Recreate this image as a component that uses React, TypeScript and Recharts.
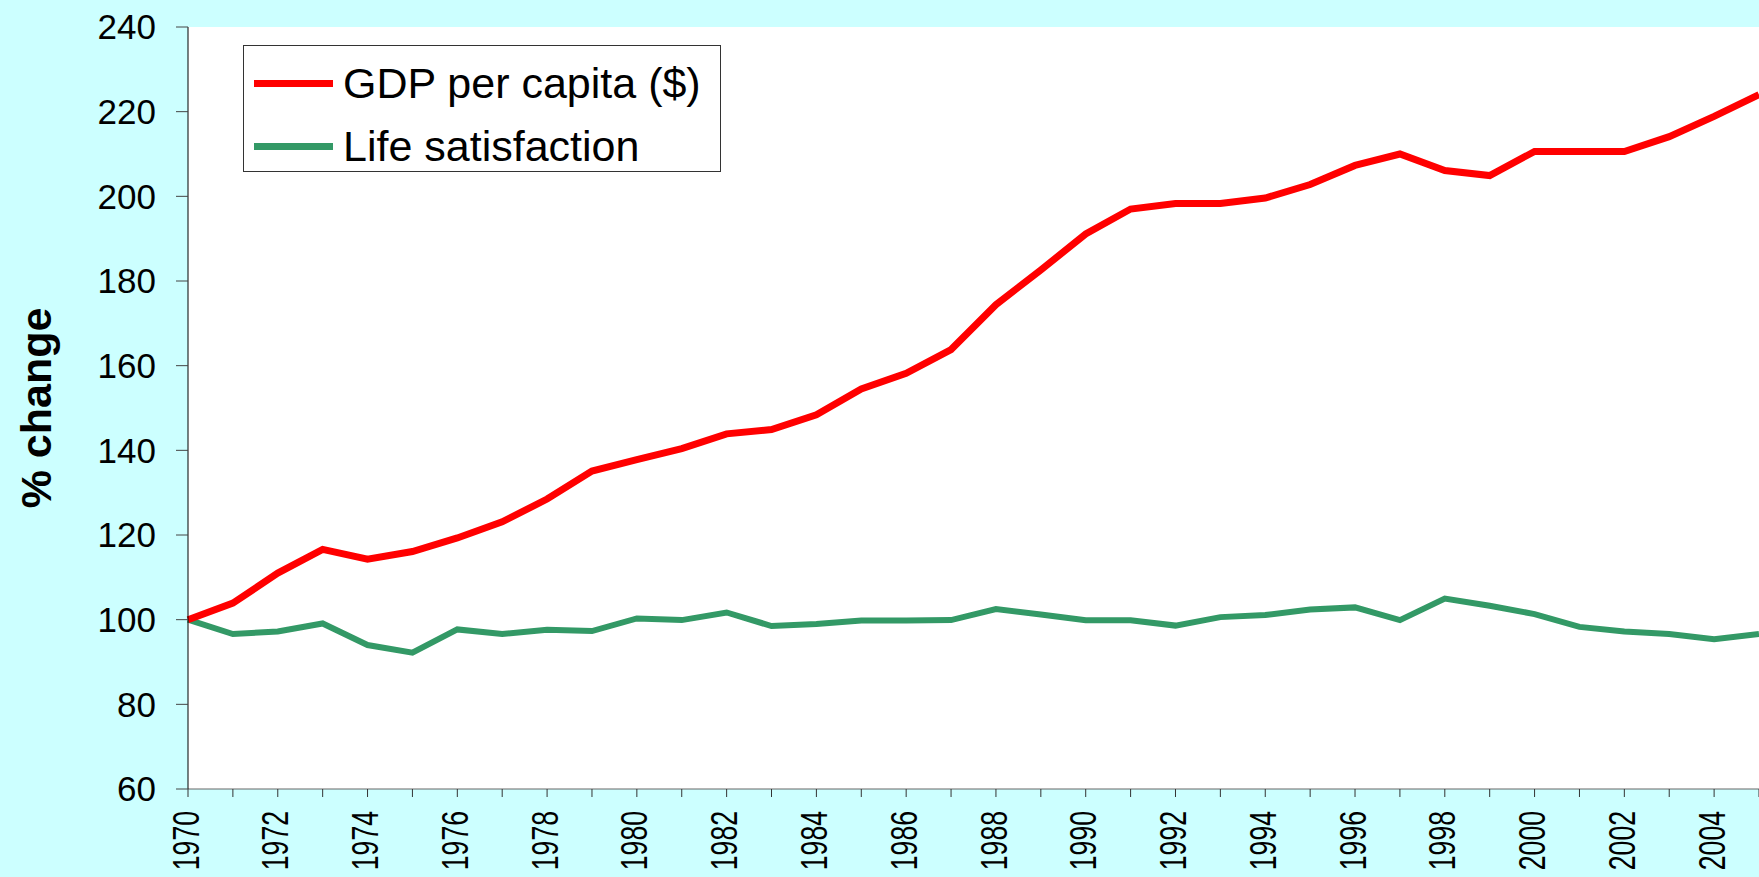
import { CartesianGrid, Legend, Line, LineChart, XAxis, YAxis } from "recharts"

const years = [
  1970, 1971, 1972, 1973, 1974, 1975, 1976, 1977, 1978, 1979, 1980, 1981, 1982, 1983, 1984, 1985, 1986, 1987,
  1988, 1989, 1990, 1991, 1992, 1993, 1994, 1995, 1996, 1997, 1998, 1999, 2000, 2001, 2002, 2003, 2004, 2005,
]

const gdpPerCapita = [
  100, 103.9, 111.0, 116.6, 114.3, 116.1, 119.3, 123.1, 128.5, 135.1, 137.8, 140.4, 143.9, 144.9, 148.4, 154.5,
  158.2, 163.8, 174.4, 182.6, 191.1, 197.0, 198.3, 198.3, 199.6, 202.8, 207.3, 210.0, 206.1, 204.9, 210.6, 210.6,
  210.6, 214.1, 218.9, 224.0,
]

const lifeSatisfaction = [
  100, 96.6, 97.2, 99.1, 94.0, 92.2, 97.7, 96.6, 97.6, 97.3, 100.3, 99.9, 101.7, 98.5, 99.0, 99.8, 99.8, 99.9,
  102.5, 101.2, 99.85, 99.85, 98.6, 100.6, 101.1, 102.4, 102.9, 99.9, 105.0, 103.3, 101.3, 98.3, 97.2, 96.6, 95.4,
  96.6,
]

const yTicks = [60, 80, 100, 120, 140, 160, 180, 200, 220, 240]

const series = [
  { key: "gdp", name: "GDP per capita ($)", color: "#ff0000" },
  { key: "life", name: "Life satisfaction", color: "#339966" },
]

const data = years.map((year, i) => ({ year, gdp: gdpPerCapita[i], life: lifeSatisfaction[i] }))

const FONT = "'Liberation Sans', Arial, sans-serif"

// only even years get a label, every year gets a tick mark
// the original labels are squashed along their length, hence the scale
function YearTick({ x, y, payload }: any) {
  if (payload.value % 2 !== 0) return null
  return (
    <g transform={`translate(${x - 2},${y}) rotate(-90) scale(0.72,1)`}>
      <text x={0} y={0} textAnchor="end" dominantBaseline="central" fontSize={37} fontFamily={FONT} fill="#000">
        {payload.value}
      </text>
    </g>
  )
}

function LegendBox() {
  return (
    <div
      style={{
        width: 476,
        height: 125,
        border: "1px solid #333",
        background: "#fff",
        boxSizing: "content-box",
        fontFamily: FONT,
        fontSize: 43,
        color: "#000",
      }}
    >
      {series.map((s, i) => (
        <div key={s.key} style={{ position: "absolute", left: 11, top: i === 0 ? 6 : 69, height: 64, display: "flex", alignItems: "center" }}>
          <span style={{ display: "inline-block", width: 79, height: 7, background: s.color, marginRight: 10 }} />
          <span>{s.name}</span>
        </div>
      ))}
    </div>
  )
}

export default function App() {
  return (
    <div style={{ width: 1759, height: 877, background: "#ccffff", overflow: "hidden" }}>
      <style>{`body{margin:0}`}</style>
      <LineChart width={1759} height={877} data={data} margin={{ top: 27, right: 0, bottom: 0, left: 0 }}>
        <CartesianGrid horizontal={false} vertical={false} fill="#ffffff" fillOpacity={1} stroke="none" />
        <XAxis
          dataKey="year"
          type="number"
          domain={[1970, 2005]}
          ticks={years}
          interval={0}
          height={88}
          tickSize={8}
          tickMargin={14}
          tick={<YearTick />}
          axisLine={{ stroke: "#666" }}
          tickLine={{ stroke: "#333" }}
        />
        <YAxis
          domain={[60, 240]}
          ticks={yTicks}
          interval={0}
          width={188}
          tickSize={12}
          tickMargin={20}
          tick={{ fontSize: 35, fontFamily: FONT, fill: "#000" }}
          axisLine={{ stroke: "#000" }}
          tickLine={{ stroke: "#444" }}
          label={{
            content: ({ viewBox }: any) => (
              <text
                x={36}
                y={viewBox.y + viewBox.height / 2}
                transform={`rotate(-90 36 ${viewBox.y + viewBox.height / 2})`}
                textAnchor="middle"
                dominantBaseline="central"
                fontSize={43}
                fontWeight="bold"
                fontFamily={FONT}
                fill="#000"
              >
                % change
              </text>
            ),
          }}
        />
        <Legend
          layout="horizontal"
          verticalAlign="middle"
          align="center"
          content={<LegendBox />}
          wrapperStyle={{ position: "absolute", left: 243, top: 45, width: 478, height: 127 }}
        />
        <Line
          type="linear"
          dataKey="life"
          name={series[1].name}
          stroke={series[1].color}
          strokeWidth={6}
          dot={false}
          isAnimationActive={false}
        />
        <Line
          type="linear"
          dataKey="gdp"
          name={series[0].name}
          stroke={series[0].color}
          strokeWidth={7}
          dot={false}
          isAnimationActive={false}
        />
      </LineChart>
    </div>
  )
}
